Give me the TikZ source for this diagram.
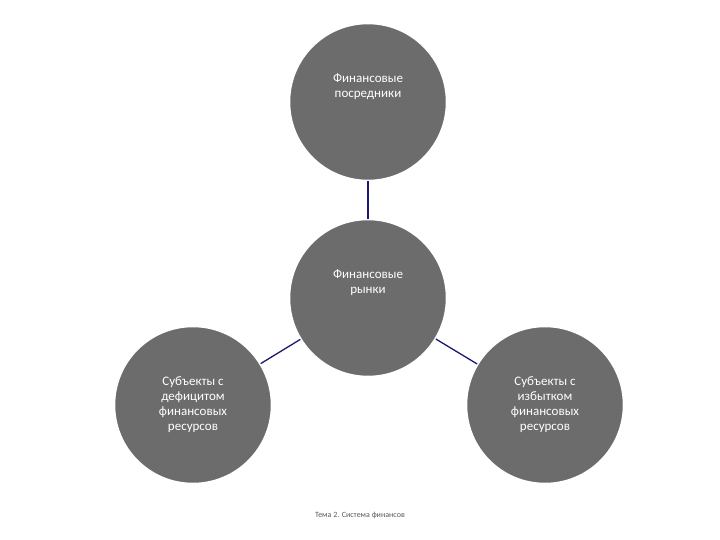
\documentclass[tikz,border=0pt]{standalone}
\usepackage{fontspec}
\setmainfont{Carlito}
\begin{document}
\begin{tikzpicture}[x=1pt,y=-1pt,
  circ/.style={circle,fill=gray!85!black,draw=white,line width=1.5pt,minimum size=157pt,text=white,align=center,font=\fontsize{13}{15}\selectfont},
  link/.style={draw=blue!45!black!80!gray,line width=1.3pt}]
\useasboundingbox (0,0) rectangle (720,540);
\node[circ] (top) at (368,102) {Финансовые\\посредники\\[18pt]};
\node[circ] (mid) at (368,298) {Финансовые\\рынки\\[18pt]};
\node[circ] (left) at (193,405) {Субъекты с\\дефицитом\\финансовых\\ресурсов};
\node[circ] (right) at (545,405) {Субъекты с\\избытком\\финансовых\\ресурсов};
\draw[link] (top) -- (mid);
\draw[link] (left) -- (mid);
\draw[link] (right) -- (mid);
\node[text=gray!70!black,font=\fontsize{8}{10}\selectfont] (foot) at (360,515) {Тема 2. Система финансов};
\end{tikzpicture}
\end{document}
